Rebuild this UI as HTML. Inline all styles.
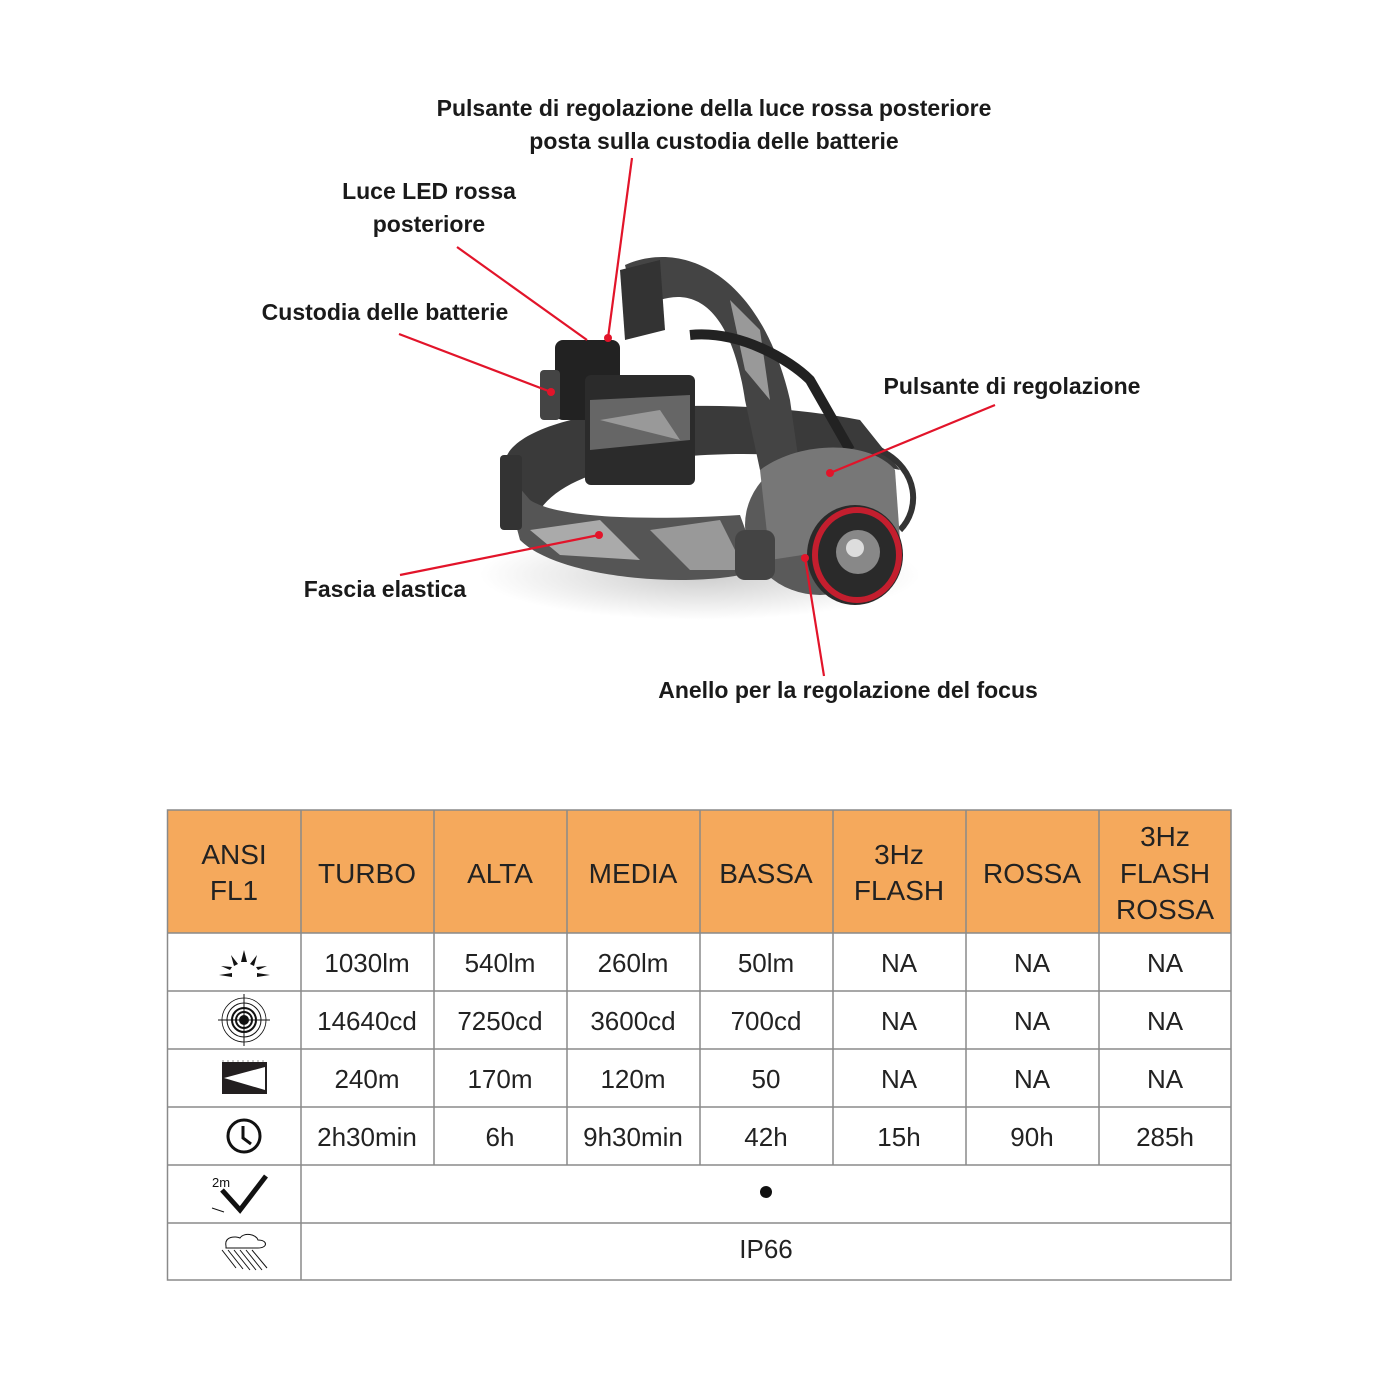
<!DOCTYPE html>
<html><head><meta charset="utf-8"><style>
html,body{margin:0;padding:0;background:#fff;}
svg{display:block;}
</style></head><body>
<svg width="1400" height="1400" viewBox="0 0 1400 1400" xmlns="http://www.w3.org/2000/svg" font-family="Liberation Sans, sans-serif">
<!-- headlamp illustration -->
<defs>
<radialGradient id="sh" cx="0.5" cy="0.5" r="0.5"><stop offset="0" stop-color="#ccc"/><stop offset="1" stop-color="#fff"/></radialGradient>
</defs>
<ellipse cx="700" cy="575" rx="220" ry="45" fill="url(#sh)"/>
<!-- lower strap ring -->
<path d="M505 460 C520 410 700 390 860 420 L900 470 C760 440 560 450 535 520 Z" fill="#3a3a3a"/>
<path d="M500 465 L520 540 C560 580 700 590 760 570 L740 515 C660 520 560 520 530 500 Z" fill="#555"/>
<path d="M530 530 L600 520 L640 560 L560 555 Z" fill="#aaa"/>
<path d="M650 530 L720 520 L745 570 L690 570 Z" fill="#999"/>
<rect x="500" y="455" width="22" height="75" fill="#333" rx="4"/>
<!-- top strap -->
<path d="M625 265 C680 240 760 270 790 400 L800 470 L760 470 L745 400 C730 300 690 290 660 300 L640 330 Z" fill="#444"/>
<path d="M730 300 L760 330 L770 400 L745 370 Z" fill="#999"/>
<path d="M620 270 L660 260 L665 330 L625 340 Z" fill="#333"/>
<!-- battery case -->
<rect x="555" y="340" width="65" height="80" rx="8" fill="#222"/>
<rect x="540" y="370" width="20" height="50" rx="4" fill="#444"/>
<rect x="585" y="375" width="110" height="110" rx="6" fill="#2b2b2b"/>
<path d="M590 400 L690 395 L690 440 L590 450 Z" fill="#666"/>
<path d="M600 420 L660 410 L680 440 Z" fill="#999"/>
<!-- cable -->
<path d="M690 335 C740 330 790 360 810 380 L850 450" stroke="#222" stroke-width="10" fill="none"/>
<path d="M880 450 C920 470 920 510 900 530" stroke="#333" stroke-width="6" fill="none"/>
<!-- lamp head -->
<ellipse cx="820" cy="525" rx="75" ry="70" fill="#5a5a5a"/>
<path d="M760 470 C800 440 870 440 895 470 L900 540 L770 560 Z" fill="#777"/>
<rect x="735" y="530" width="40" height="50" rx="10" fill="#444"/>
<ellipse cx="855" cy="555" rx="48" ry="50" fill="#2a2a2a"/>
<ellipse cx="857" cy="555" rx="42" ry="45" fill="none" stroke="#c41e2e" stroke-width="6"/>
<circle cx="858" cy="552" r="22" fill="#888"/>
<circle cx="855" cy="548" r="9" fill="#ddd"/>
<!-- leader lines -->
<g stroke="#e2142a" stroke-width="2.2" fill="none">
<line x1="632" y1="158" x2="608" y2="338"/>
<line x1="457" y1="247" x2="587" y2="340"/>
<line x1="399" y1="334" x2="551" y2="392"/>
<line x1="995" y1="405" x2="830" y2="473"/>
<line x1="400" y1="575" x2="599" y2="535"/>
<line x1="824" y1="676" x2="805" y2="558"/>
</g>
<g fill="#e2142a">
<circle cx="608" cy="338" r="4"/><circle cx="551" cy="392" r="4"/><circle cx="830" cy="473" r="4"/><circle cx="599" cy="535" r="4"/><circle cx="805" cy="558" r="4"/>
</g>
<!-- labels -->
<g font-weight="bold" font-size="23" fill="#1a1a1a" text-anchor="middle">
<text x="714" y="116">Pulsante di regolazione della luce rossa posteriore</text>
<text x="714" y="149">posta sulla custodia delle batterie</text>
<text x="429" y="199">Luce LED rossa</text>
<text x="429" y="232">posteriore</text>
<text x="385" y="320">Custodia delle batterie</text>
<text x="1012" y="394">Pulsante di regolazione</text>
<text x="385" y="597">Fascia elastica</text>
<text x="848" y="698">Anello per la regolazione del focus</text>
</g>
<!-- table -->
<rect x="167" y="810" width="1064" height="123" fill="#f5a95c"/>
<g stroke="#8a8a8a" stroke-width="1.5" fill="none">
<rect x="167.5" y="810" width="1063.5" height="470"/>
<line x1="167" y1="933" x2="1231" y2="933"/>
<line x1="167" y1="991" x2="1231" y2="991"/>
<line x1="167" y1="1049" x2="1231" y2="1049"/>
<line x1="167" y1="1107" x2="1231" y2="1107"/>
<line x1="167" y1="1165" x2="1231" y2="1165"/>
<line x1="167" y1="1223" x2="1231" y2="1223"/>
<line x1="301" y1="810" x2="301" y2="1280"/>
<g><line x1="434" y1="810" x2="434" y2="1165"/><line x1="567" y1="810" x2="567" y2="1165"/><line x1="700" y1="810" x2="700" y2="1165"/><line x1="833" y1="810" x2="833" y2="1165"/><line x1="966" y1="810" x2="966" y2="1165"/><line x1="1099" y1="810" x2="1099" y2="1165"/></g>
</g>
<g font-size="28" fill="#222" text-anchor="middle">
<text x="234" y="864">ANSI</text><text x="234" y="900">FL1</text>
<text x="367" y="883">TURBO</text><text x="500" y="883">ALTA</text><text x="633" y="883">MEDIA</text><text x="766" y="883">BASSA</text>
<text x="899" y="864">3Hz</text><text x="899" y="900">FLASH</text>
<text x="1032" y="883">ROSSA</text>
<text x="1165" y="846">3Hz</text><text x="1165" y="883">FLASH</text><text x="1165" y="919">ROSSA</text>
</g>
<g font-size="26" fill="#222" text-anchor="middle">
<text x="367" y="972">1030lm</text><text x="500" y="972">540lm</text><text x="633" y="972">260lm</text><text x="766" y="972">50lm</text><text x="899" y="972">NA</text><text x="1032" y="972">NA</text><text x="1165" y="972">NA</text>
<text x="367" y="1030">14640cd</text><text x="500" y="1030">7250cd</text><text x="633" y="1030">3600cd</text><text x="766" y="1030">700cd</text><text x="899" y="1030">NA</text><text x="1032" y="1030">NA</text><text x="1165" y="1030">NA</text>
<text x="367" y="1088">240m</text><text x="500" y="1088">170m</text><text x="633" y="1088">120m</text><text x="766" y="1088">50</text><text x="899" y="1088">NA</text><text x="1032" y="1088">NA</text><text x="1165" y="1088">NA</text>
<text x="367" y="1146">2h30min</text><text x="500" y="1146">6h</text><text x="633" y="1146">9h30min</text><text x="766" y="1146">42h</text><text x="899" y="1146">15h</text><text x="1032" y="1146">90h</text><text x="1165" y="1146">285h</text>
<text x="766" y="1258">IP66</text>
</g>
<circle cx="766" cy="1192" r="6" fill="#111"/>
<!-- icons -->
<g fill="#111">
<polygon points="244,950 241,962 247,962"/>
<polygon points="231,955 234,966 238,964"/>
<polygon points="257,955 250,964 254,966"/>
<polygon points="221,966 230,970 232,967"/>
<polygon points="267,966 256,967 258,970"/>
<polygon points="219,975 232,973 232,977"/>
<polygon points="270,975 257,973 257,977"/>
</g>
<g fill="none" stroke="#111">
<circle cx="244" cy="1020" r="22" stroke-width="0.8"/>
<circle cx="244" cy="1020" r="17" stroke-width="1"/>
<circle cx="244" cy="1020" r="12" stroke-width="2"/>
<circle cx="244" cy="1020" r="8" stroke-width="2"/>
<line x1="218" y1="1020" x2="270" y2="1020" stroke-width="1"/>
<line x1="244" y1="994" x2="244" y2="1046" stroke-width="1"/>
</g>
<circle cx="244" cy="1020" r="5" fill="#111"/>
<rect x="222" y="1062" width="45" height="32" fill="#231f20"/>
<polygon points="224,1078 265,1067 265,1090" fill="#fff"/>
<line x1="222" y1="1061" x2="267" y2="1061" stroke="#999" stroke-width="1" stroke-dasharray="2,3"/>
<circle cx="244" cy="1136" r="16" fill="none" stroke="#111" stroke-width="3"/>
<polyline points="243,1126 243,1138 251,1144" fill="none" stroke="#111" stroke-width="3"/>
<text x="212" y="1187" font-size="13" fill="#111">2m</text>
<path d="M222 1190 L240 1210 L266 1176" stroke="#111" stroke-width="5" fill="none"/>
<path d="M224 1212 L212 1208" stroke="#111" stroke-width="1"/>
<path d="M226 1246 C224 1236 236 1236 240 1238 C244 1232 256 1234 258 1240 C268 1240 268 1248 258 1248 L226 1248 Z" fill="none" stroke="#111" stroke-width="1"/>
<g stroke="#111" stroke-width="1"><line x1="222" y1="1250" x2="236" y2="1268"/><line x1="228" y1="1250" x2="243" y2="1269"/><line x1="234" y1="1250" x2="250" y2="1270"/><line x1="240" y1="1250" x2="256" y2="1270"/><line x1="246" y1="1250" x2="262" y2="1270"/><line x1="252" y1="1250" x2="267" y2="1268"/></g>
</svg>
</body></html>
